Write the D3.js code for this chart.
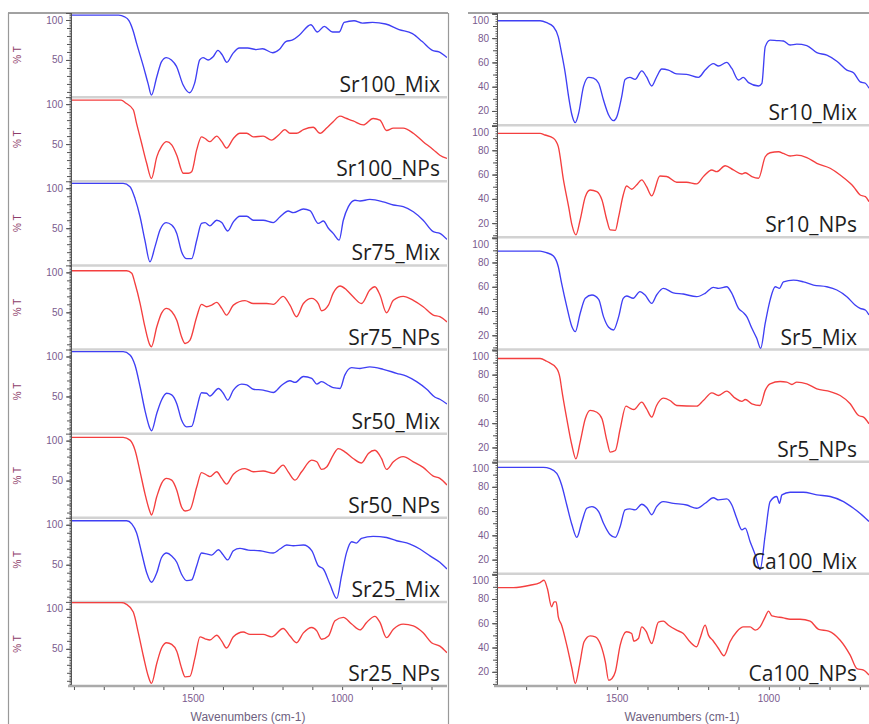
<!DOCTYPE html>
<html><head><meta charset="utf-8">
<script src="https://cdn.jsdelivr.net/npm/d3@7"></script>
<style>body{margin:0;background:#fff}svg{display:block}</style>
</head><body>
<svg id="chart" width="869" height="724"></svg>
<script>
// ---------------- DATA ----------------
const leftNames  = ["Sr100_Mix","Sr100_NPs","Sr75_Mix","Sr75_NPs","Sr50_Mix","Sr50_NPs","Sr25_Mix","Sr25_NPs"];
const rightNames = ["Sr10_Mix","Sr10_NPs","Sr5_Mix","Sr5_NPs","Ca100_Mix","Ca100_NPs"];
const leftYTicks  = [50, 100];
const rightYTicks = [20, 40, 60, 80, 100];
const xTickLabels = [1500, 1000];
const xLabel = "Wavenumbers (cm-1)";
const yLabel = "% T";

const sr100Mix = [[1910,106],[1750,106],[1730,104],[1715,99],[1701,86],[1690,71],[1667,42],[1651,20],[1640,6],[1622,29],[1606,48],[1590,53],[1573,50],[1556,42],[1534,19],[1512,9],[1495,21],[1478,50],[1467,53],[1450,50],[1433,54],[1417,62],[1402,56],[1387,47],[1367,58],[1345,65],[1317,65],[1289,63],[1267,64],[1233,59],[1211,63],[1189,73],[1166,75],[1144,81],[1105,94],[1083,85],[1060,92],[1032,85],[1010,85],[993,97],[960,99],[932,96],[898,97],[854,95],[809,88],[764,83],[731,73],[697,62],[675,60],[648,53]];
const sr100NPs = [[1910,105],[1742,105],[1725,101],[1701,93],[1690,76],[1673,51],[1656,26],[1640,7],[1622,34],[1606,47],[1589,53],[1572,49],[1555,36],[1533,13.5],[1516,13.5],[1505,15.5],[1488,43],[1472,59],[1460,57],[1444,53],[1421,60],[1404,53],[1388,45],[1365,57],[1343,63.5],[1320,63.5],[1298,59],[1265,60],[1237,55],[1214,61],[1192,68],[1175,63.5],[1153,63.5],[1130,68],[1097,71],[1074,63.5],[1052,70],[1030,78],[1007,85],[985,82],[963,79],[929,74],[896,82],[873,80],[851,67],[828,70],[795,70],[761,63.5],[728,53],[694,43],[672,36],[648,32]];
const sr75Mix = [[1910,106],[1735,106],[1712,102],[1695,87],[1678,64],[1662,35],[1645,8],[1628,27],[1611,48],[1591,57],[1572,54],[1555,43.5],[1539,20.6],[1522,12],[1505,12],[1488,35],[1472,56],[1460,57],[1444,53],[1421,60],[1404,57],[1384,46.5],[1365,58],[1343,65],[1320,65],[1298,60],[1265,60],[1231,57],[1209,64],[1181,71.5],[1164,69.5],[1130,74],[1108,72],[1080,56],[1063,59],[1046,50],[1030,43.5],[1010,35],[996,60],[979,77],[957,85],[940,84],[907,86],[862,83],[828,79],[795,77],[761,70.6],[728,60],[694,45.6],[672,43.5],[648,36]];
const sr75NPs = [[1910,102],[1723,102],[1706,99],[1695,86],[1678,61],[1662,32],[1645,9],[1640,7],[1622,32],[1606,49],[1589,55],[1572,51],[1555,40],[1539,19.5],[1527,11],[1511,15],[1488,44.5],[1472,60],[1455,57],[1438,59],[1421,62.5],[1404,55],[1388,46.6],[1365,59],[1326,64.6],[1298,61],[1253,61],[1231,60],[1198,70],[1175,59],[1153,44.5],[1130,61],[1102,67.5],[1080,61],[1069,52],[1046,59],[1030,74],[1007,83],[985,78],[963,69.5],[935,61],[907,78],[890,82],[873,71.6],[851,49.5],[828,65],[795,70],[761,65],[728,57],[694,46.6],[672,44.5],[648,38]];
const sr50Mix = [[1910,106],[1735,106],[1712,102],[1695,89],[1678,62],[1662,33],[1645,10],[1640,7],[1622,29],[1606,45.5],[1589,54],[1572,52],[1555,41],[1539,20.5],[1522,12],[1505,12.5],[1488,35],[1472,54.7],[1455,54],[1444,50.5],[1415,60],[1399,54],[1384,45.5],[1365,58],[1337,65.5],[1320,64.5],[1298,59],[1265,58],[1231,55],[1203,64],[1175,69.7],[1158,67.6],[1130,75],[1102,72.6],[1085,65.5],[1069,68.5],[1046,64],[1030,61],[1007,60],[991,76.7],[968,86],[940,85],[907,87],[862,84],[817,79],[784,75.5],[750,68.5],[716,59],[688,49],[672,46.5],[648,40.5]];
const sr50NPs = [[1910,104],[1735,104],[1712,100.6],[1695,88],[1678,61],[1662,34],[1645,11],[1640,7],[1622,30],[1606,46.5],[1589,52.7],[1572,50.6],[1555,38],[1539,17],[1527,12],[1511,13.5],[1488,42],[1472,60],[1455,57],[1444,55],[1421,61],[1404,52.7],[1388,45.6],[1365,58],[1326,65],[1298,61],[1265,62],[1231,59],[1198,69.4],[1181,61],[1158,50.6],[1136,61],[1102,75.6],[1085,73.5],[1069,64],[1052,67],[1030,82],[1013,90],[991,86],[963,77.7],[935,72],[912,84],[890,88],[868,77.7],[851,64],[828,73.5],[795,80],[761,73.5],[728,66.5],[694,55.6],[672,52.7],[648,44.4]];
const sr25Mix = [[1910,105],[1723,105],[1706,101],[1690,90],[1673,65],[1656,40],[1640,28],[1622,40],[1606,59],[1589,64.6],[1572,61],[1555,53],[1539,38],[1522,30],[1505,31],[1488,48.7],[1472,64.6],[1455,63.5],[1438,62],[1415,68.75],[1401,63],[1384,56],[1365,67.5],[1343,70.4],[1315,68.3],[1276,67.5],[1231,64.6],[1209,69.6],[1186,74.6],[1164,73.75],[1130,74.6],[1102,67.5],[1080,48.7],[1063,44.6],[1041,25.8],[1018,7.9],[1002,36],[985,65.4],[968,78.75],[952,77],[935,83],[896,85.4],[851,84],[817,80],[772,75.8],[739,69.6],[705,61],[672,53],[648,44.6]];
const sr25NPs = [[1910,108],[1742,108],[1725,106],[1701,96],[1684,70],[1667,40.7],[1650,15],[1640,6.8],[1622,32],[1606,51],[1589,57.6],[1572,55.5],[1555,47],[1539,26],[1527,15],[1511,15.5],[1494,38.6],[1477,65],[1460,62.5],[1444,61],[1421,67],[1404,59.7],[1388,51],[1365,65],[1332,71],[1309,68],[1265,68],[1237,65],[1198,75.4],[1175,66],[1153,57.6],[1130,70],[1102,76.7],[1085,72.5],[1069,62],[1046,66],[1024,85],[996,89.4],[968,81],[940,73.7],[918,83],[890,90.7],[873,83],[851,64],[828,74.6],[795,81],[761,78.8],[728,70],[700,57.6],[672,53.4],[648,45]];

const sr10Mix = [[1896,94.3],[1754,94.3],[1732,92.7],[1710,89.4],[1694,81],[1683,67.5],[1671,51],[1660,31.8],[1649,16.7],[1638,10.4],[1627,18],[1611,40],[1594,47.7],[1578,47],[1561,42.8],[1545,29],[1528,16.7],[1512,12],[1501,15.3],[1485,31.8],[1474,46],[1458,47.7],[1441,46],[1419,53],[1403,48],[1386,40.6],[1370,48],[1353,54.6],[1331,53.7],[1304,50.5],[1271,50.2],[1232,47.7],[1210,53.7],[1183,59],[1166,57],[1139,60],[1122,55],[1100,45.5],[1084,47.7],[1067,43.3],[1034,40.6],[1023,42.8],[1012,73],[996,78.4],[974,78],[952,77.6],[930,74.3],[908,75],[875,73.8],[842,68],[809,66],[776,61],[743,53.7],[721,51.5],[699,44],[682,42.8],[670,38.7]];
const sr10NPs = [[1896,94],[1754,94],[1738,92.6],[1710,89.9],[1694,83],[1677,55.6],[1660,33.6],[1649,18.5],[1636,10.3],[1622,22.6],[1605,41.8],[1589,47.3],[1567,46],[1550,39],[1534,22.6],[1523,14.4],[1506,14],[1495,25.3],[1480,43.2],[1469,50.6],[1452,47.9],[1436,51.4],[1419,55.6],[1403,50],[1386,42.4],[1359,58.8],[1337,58.4],[1304,53.7],[1271,53.7],[1238,52.3],[1216,58.3],[1188,63.8],[1172,62.4],[1144,67.3],[1117,63.8],[1089,60.5],[1078,61.5],[1056,58.3],[1034,57],[1012,74.7],[996,78],[968,78.8],[952,77.4],[930,75.3],[908,76],[875,74],[842,69.3],[798,65.2],[765,59.7],[732,52.8],[721,50],[699,43.2],[682,41.8],[670,37.7]];
const sr5Mix = [[1896,89.4],[1754,89.4],[1732,88],[1710,85.3],[1694,76.5],[1683,62.8],[1666,43.6],[1649,27],[1638,23],[1622,38],[1605,50.5],[1583,53.2],[1561,49.6],[1545,35.4],[1528,26.6],[1512,24.4],[1495,35.4],[1480,50.5],[1469,52.4],[1447,50.5],[1425,56],[1408,53.2],[1386,46.3],[1370,53.2],[1348,58.7],[1315,55],[1282,54],[1238,51.8],[1210,54.6],[1183,59.5],[1166,58.7],[1139,60],[1122,54.6],[1100,42.2],[1084,38.7],[1073,35.4],[1056,25.8],[1040,17.5],[1027,9.3],[1012,30],[996,49],[979,60],[965,58.7],[952,64],[919,65.5],[886,64],[853,61.4],[809,60],[776,57.3],[743,51.8],[716,45],[699,42.2],[682,40.8],[670,36.7]];
const sr5NPs = [[1896,93.3],[1754,93.3],[1732,91],[1699,85],[1688,76.8],[1683,68.3],[1666,43.6],[1649,21.6],[1636,10.7],[1622,24.4],[1605,43.6],[1589,50.5],[1567,49],[1550,43.6],[1534,25.8],[1523,16.2],[1506,17.5],[1490,35.4],[1471,54],[1458,52.4],[1445,51.3],[1419,57.3],[1403,51.8],[1386,45],[1370,54.6],[1348,60.6],[1326,58.7],[1304,54.6],[1238,54],[1216,58.7],[1188,65],[1166,62.8],[1139,66.4],[1111,60.6],[1089,58],[1078,59.5],[1056,56],[1029,54.6],[1012,67],[996,72.4],[963,74.3],[941,73.8],[924,71.9],[908,73.8],[875,72.4],[842,68.3],[798,66],[765,62.8],[732,56],[704,46.3],[688,45],[670,39.5]];
const ca100Mix = [[1896,96],[1743,96],[1721,95],[1699,91],[1683,81.5],[1666,65],[1649,48.7],[1633,38.3],[1616,51.4],[1600,62.3],[1583,63.7],[1561,59.6],[1545,50],[1523,40.5],[1506,38.3],[1490,47.3],[1474,61],[1458,61.8],[1441,61],[1419,65.6],[1403,63],[1386,57],[1370,63.7],[1348,67.8],[1315,66.4],[1271,65],[1238,62.3],[1210,66.4],[1183,71],[1166,69.2],[1139,70],[1122,65],[1106,54],[1089,44.6],[1078,46],[1062,35],[1045,24],[1029,11.8],[1012,40.5],[996,67.8],[974,72],[965,66.4],[957,73.3],[930,75.5],[886,75.5],[842,73.3],[798,72],[754,67.8],[721,62.3],[699,58],[670,51.4]];
const ca100NPs = [[1896,89.4],[1842,89.4],[1787,91.3],[1754,93.5],[1741,95.4],[1730,88.6],[1716,73.5],[1708,77.6],[1701,77.6],[1694,65.3],[1683,58.4],[1666,42],[1649,22.7],[1638,10.4],[1624,25.5],[1609,44.7],[1589,49.6],[1572,48.8],[1554,42],[1539,28.2],[1528,13],[1517,14.5],[1506,20],[1490,42],[1469,53],[1452,51.5],[1445,45.2],[1430,47.4],[1419,57],[1405,53.5],[1386,43.3],[1364,61],[1348,61.7],[1331,58.4],[1304,54.3],[1282,51.5],[1260,44.7],[1238,40.6],[1227,47.4],[1210,58.4],[1199,50.2],[1185,46],[1166,39.2],[1148,33.2],[1128,44.7],[1106,53],[1084,57],[1062,57],[1045,54.3],[1029,57],[1012,65.3],[1001,70],[990,66],[974,65.3],[952,64.4],[930,63.3],[897,63.3],[864,61.7],[836,55],[803,53.5],[765,46],[732,33.7],[710,22.7],[688,21.4],[670,17.3]];

const leftSeries  = [sr100Mix, sr100NPs, sr75Mix, sr75NPs, sr50Mix, sr50NPs, sr25Mix, sr25NPs];
const rightSeries = [sr10Mix, sr10NPs, sr5Mix, sr5NPs, ca100Mix, ca100NPs];

// ---------------- LAYOUT / STYLE ----------------
const svg = d3.select("#chart");
const C = {
  blue: "#3f3ff4", red: "#f43f3f",
  tick: "#7a5a8e", ylab: "#8e3d6a", xlab: "#6e5f80",
  sep: "#d2d2d2", axis: "#555"
};
const plotTop = 13, plotBottom = 686;

const columns = [
  { names: leftNames, series: leftSeries, x0: 71, x1: 447, xDomain: [1910, 648], yDomain: [3.5, 108.75],
    yTicks: leftYTicks, showYLabel: true, labelEnd: 440, clipPrefix: "L", xLabelX: 248 },
  { names: rightNames, series: rightSeries, x0: 497, x1: 869, xDomain: [1896, 670], yDomain: [8.3, 100.7],
    yTicks: rightYTicks, showYLabel: false, labelEnd: 857, clipPrefix: "R", xLabelX: 682 }
];

// frames
svg.append("line").attr("x1", 8).attr("x2", 448).attr("y1", plotTop).attr("y2", plotTop).attr("stroke", "#444").attr("stroke-width", 1);
svg.append("line").attr("x1", 8.5).attr("x2", 8.5).attr("y1", plotTop).attr("y2", 724).attr("stroke", "#999").attr("stroke-width", 1.2);
svg.append("line").attr("x1", 448.5).attr("x2", 448.5).attr("y1", plotTop).attr("y2", 724).attr("stroke", "#999").attr("stroke-width", 1.2);
svg.append("line").attr("x1", 468).attr("x2", 869).attr("y1", plotTop).attr("y2", plotTop).attr("stroke", "#444").attr("stroke-width", 1);

const defs = svg.append("defs");

columns.forEach(col => {
  const n = col.names.length;
  const ph = (plotBottom - plotTop) / n;
  const x = d3.scaleLinear().domain(col.xDomain).range([col.x0, col.x1]);

  col.names.forEach((name, i) => {
    const T = plotTop + i * ph;
    const y = d3.scaleLinear().domain(col.yDomain).range([T + ph, T]);
    const g = svg.append("g");

    if (i < n - 1) {
      g.append("line").attr("x1", col.x0).attr("x2", col.x1)
        .attr("y1", T + ph).attr("y2", T + ph)
        .attr("stroke", C.sep).attr("stroke-width", 2.5);
    }

    const cid = col.clipPrefix + i;
    defs.append("clipPath").attr("id", cid).append("rect")
      .attr("x", col.x0).attr("y", T).attr("width", col.x1 - col.x0).attr("height", ph);

    const data = col.series[i].slice().sort((a, b) => b[0] - a[0]);
    const line = d3.line().x(d => x(d[0])).y(d => y(d[1])).curve(d3.curveMonotoneX);
    g.append("path").datum(data).attr("d", line)
      .attr("clip-path", `url(#${cid})`)
      .attr("fill", "none")
      .attr("stroke", name.endsWith("Mix") ? C.blue : C.red)
      .attr("stroke-width", 1.35).attr("stroke-linejoin", "round");

    const fine = d3.range(Math.ceil(col.yDomain[0] / 2) * 2, col.yDomain[1], 2);
    const mid = d3.range(10, col.yDomain[1], 10);
    const ax1 = g.append("g").attr("transform", `translate(${col.x0},0)`)
      .call(d3.axisLeft(y).tickValues(fine).tickSize(1.5).tickFormat(""));
    const ax2 = g.append("g").attr("transform", `translate(${col.x0},0)`)
      .call(d3.axisLeft(y).tickValues(mid).tickSize(4).tickFormat(""));
    const ax3 = g.append("g").attr("transform", `translate(${col.x0},0)`)
      .call(d3.axisLeft(y).tickValues(col.yTicks).tickSize(5).tickFormat(""));
    [ax1, ax2, ax3].forEach(a => {
      a.selectAll(".domain").remove();
      a.selectAll("line").attr("stroke", C.axis).attr("stroke-width", 1);
    });
    g.append("line").attr("x1", col.x0 - 5).attr("x2", col.x0).attr("y1", T + 0.5).attr("y2", T + 0.5)
      .attr("stroke", C.axis);

    col.yTicks.forEach(v => {
      const yy = Math.max(y(v), T + 7);
      g.append("text").attr("x", col.x0 - 8).attr("y", yy).attr("dy", "0.35em")
        .attr("text-anchor", "end").attr("font-family", "Liberation Sans, Arial, sans-serif")
        .attr("font-size", 10).attr("fill", C.tick).text(v);
    });

    if (col.showYLabel) {
      g.append("text").attr("transform", `translate(21,${T + ph / 2}) rotate(-90)`)
        .attr("text-anchor", "middle").attr("font-family", "Liberation Sans, Arial, sans-serif")
        .attr("font-size", 10).attr("fill", C.ylab).text(yLabel);
    }

    g.append("text").attr("x", col.labelEnd).attr("y", T + ph - 5)
      .attr("text-anchor", "end").attr("font-family", "'Open Sans', sans-serif")
      .attr("font-size", 21).attr("fill", "#1e1e1e").text(name);
  });

  svg.append("line").attr("x1", col.x0 + 0.5).attr("x2", col.x0 + 0.5).attr("y1", plotTop).attr("y2", plotBottom)
    .attr("stroke", C.axis).attr("stroke-width", 1);

  svg.append("line").attr("x1", col.x0 - 3).attr("x2", col.x1).attr("y1", plotBottom).attr("y2", plotBottom)
    .attr("stroke", "#aaa").attr("stroke-width", 2.5);
  const minorX = d3.range(700, 1901, 100).filter(v => v <= col.xDomain[0] && v >= col.xDomain[1]);
  const xa = svg.append("g").attr("transform", `translate(0,${plotBottom + 1})`)
    .call(d3.axisBottom(x).tickValues(minorX).tickSize(3).tickFormat(""));
  xa.selectAll(".domain").remove();
  xa.selectAll("line").attr("stroke", C.axis);
  xTickLabels.forEach(v => {
    svg.append("text").attr("x", x(v)).attr("y", plotBottom + 16)
      .attr("text-anchor", "middle").attr("font-family", "Liberation Sans, Arial, sans-serif")
      .attr("font-size", 10).attr("fill", C.tick).text(v);
  });
  svg.append("text").attr("x", col.xLabelX).attr("y", plotBottom + 35)
    .attr("text-anchor", "middle").attr("font-family", "Liberation Sans, Arial, sans-serif")
    .attr("font-size", 12).attr("fill", C.xlab).text(xLabel);
});
</script>
</body></html>
